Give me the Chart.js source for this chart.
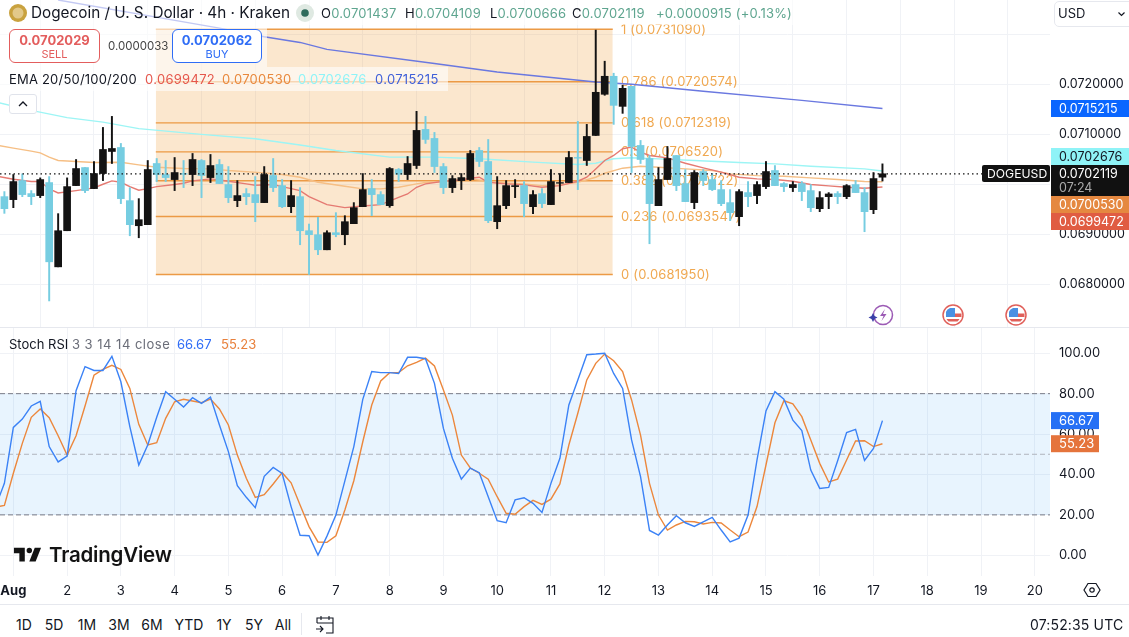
<!DOCTYPE html>
<html><head><meta charset="utf-8">
<script src="https://cdn.jsdelivr.net/npm/chart.js@4"></script>
<style>
html,body{margin:0;padding:0;background:#fff;width:1129px;height:637px;overflow:hidden;font-family:Inter,"Noto Sans",sans-serif;color:#131722}
canvas{position:absolute;left:0}
.a{position:absolute;white-space:nowrap;line-height:1}
.band{position:absolute;background:rgba(255,255,255,.6)}
.btn{position:absolute;box-sizing:border-box;border-radius:6px;background:#fff;text-align:center;border:1px solid}
.rng{position:absolute;top:618px;font-size:14px;line-height:1;color:#131722;transform:translateX(-50%)}
.ls{letter-spacing:.2px}
</style></head><body>
<canvas id="price" width="1129" height="328" style="top:0"></canvas>
<canvas id="stoch" width="1129" height="277" style="top:327px"></canvas>

<div class="a" style="left:0;top:327px;width:1129px;height:1px;background:#e6e8ee"></div>
<div class="a" style="left:0;top:604px;width:1129px;height:1px;background:#e6e8ee"></div>

<div class="band" style="left:0;top:0;width:808px;height:25px"></div>
<div class="band" style="left:0;top:25px;width:267px;height:42px"></div>
<div class="band" style="left:0;top:67px;width:448px;height:24px"></div>

<svg class="a" style="left:9px;top:4px" width="18" height="18" viewBox="0 0 18 18"><circle cx="9" cy="9" r="9" fill="#c9a23f"/><circle cx="9" cy="9" r="5.500" fill="#e3c98a"/></svg>
<div class="a" style="left:31px;top:5px;font-size:15.3px">Dogecoin / U. S. Dollar · 4h · Kraken</div>
<svg class="a" style="left:296px;top:4px" width="18" height="18" viewBox="0 0 18 18"><circle cx="9" cy="9" r="9" fill="#dfe9e2"/><circle cx="9" cy="9" r="3.800" fill="#2f6b5c"/></svg>
<div class="a ls" style="left:321px;top:7px;font-size:13px;color:#5ea58f"><span style="color:#131722">O</span>0.0701437</div>
<div class="a ls" style="left:405px;top:7px;font-size:13px;color:#5ea58f"><span style="color:#131722">H</span>0.0704109</div>
<div class="a ls" style="left:490px;top:7px;font-size:13px;color:#5ea58f"><span style="color:#131722">L</span>0.0700666</div>
<div class="a ls" style="left:572px;top:7px;font-size:13px;color:#5ea58f"><span style="color:#131722">C</span>0.0702119</div>
<div class="a ls" style="left:656px;top:7px;font-size:13px;color:#5ea58f">+0.0000915 (+0.13%)</div>

<div class="btn" style="left:9px;top:29px;width:91px;height:34px;border-color:#e35d5d;color:#e35d5d"><div style="font-size:13px;font-weight:700;margin-top:3px;line-height:15px">0.0702029</div><div style="font-size:11px;line-height:13px">SELL</div></div>
<div class="a" style="left:108px;top:41px;font-size:11.5px;color:#444">0.0000033</div>
<div class="btn" style="left:172px;top:29px;width:90px;height:34px;border-color:#2f6df6;color:#2f6df6"><div style="font-size:13px;font-weight:700;margin-top:3px;line-height:15px">0.0702062</div><div style="font-size:11px;line-height:13px">BUY</div></div>

<div class="a ls" style="left:9px;top:73px;font-size:13px">EMA 20/50/100/200</div>
<div class="a" style="left:145px;top:73px;font-size:13px;color:#e5574c;letter-spacing:.3px">0.0699472</div>
<div class="a" style="left:222px;top:73px;font-size:13px;color:#e8883c;letter-spacing:.3px">0.0700530</div>
<div class="a" style="left:298px;top:73px;font-size:13px;color:#8ff3f7;letter-spacing:.3px">0.0702676</div>
<div class="a" style="left:375px;top:73px;font-size:13px;color:#3f5fd8;letter-spacing:.3px">0.0715215</div>
<div class="a" style="left:9px;top:94px;width:28px;height:20px;box-sizing:border-box;border:1px solid #e0e3eb;border-radius:3px;background:#fff"><svg width="26" height="18" viewBox="0 0 26 18"><path d="M9 11l4-4 4 4" fill="none" stroke="#131722" stroke-width="1.300"/></svg></div>

<div class="a" style="left:1054px;top:1px;width:80px;height:26px;box-sizing:border-box;border:1px solid #e6e8ee;border-radius:5px;background:#fff"></div>
<div class="a" style="left:1058px;top:7px;font-size:13px">USD</div>
<svg class="a" style="left:1117px;top:11px" width="9" height="6" viewBox="0 0 9 6"><path d="M1.500 1.500l3 3 3-3" fill="none" stroke="#131722" stroke-width="1.200"/></svg>

<svg class="a" style="left:867px;top:303px" width="28" height="24" viewBox="0 0 28 24"><circle cx="16" cy="12" r="9.500" fill="#fff" stroke="#9c5bb5" stroke-width="1.500"/><path d="M18 6l-5 7h3.500l-2 5 5-7h-3.500z" fill="#9c5bb5"/><path d="M6 10l1.500 3 3 1.500-3 1.500L6 19l-1.500-3-3-1.500 3-1.500z" fill="#3a3fa8"/></svg>
<svg class="a" style="left:942px;top:304px" width="22" height="22" viewBox="0 0 22 22"><circle cx="11" cy="11" r="10" fill="#fff" stroke="#e0605a" stroke-width="1.500"/><path d="M13 9.500h6.500v3.500H13zM4.500 15h13a8 8 0 0 1-2 2.500h-9a8 8 0 0 1-2-2.500z" fill="#e0605a"/><path d="M4 13V7.500A8 8 0 0 1 8 4h5v9z" fill="#4a90e2"/></svg>
<svg class="a" style="left:1005px;top:304px" width="22" height="22" viewBox="0 0 22 22"><circle cx="11" cy="11" r="10" fill="#fff" stroke="#e0605a" stroke-width="1.500"/><path d="M13 9.500h6.500v3.500H13zM4.500 15h13a8 8 0 0 1-2 2.500h-9a8 8 0 0 1-2-2.500z" fill="#e0605a"/><path d="M4 13V7.500A8 8 0 0 1 8 4h5v9z" fill="#4a90e2"/></svg>

<div class="a" style="left:9px;top:338px;font-size:13px">Stoch RSI <span style="color:#6a6d78;letter-spacing:.5px">3 3 14 14 close</span></div>
<div class="a" style="left:177px;top:338px;font-size:13px;color:#2f6df6">66.67</div>
<div class="a" style="left:221px;top:338px;font-size:13px;color:#e8803c">55.23</div>

<svg class="a" style="left:12px;top:546px" width="31" height="19" viewBox="0 4 34 21"><path d="M14 6H2v6h6v9h6V6Zm12 15h-7l6-15h7l-6 15Zm-7-9a3 3 0 1 0 0-6 3 3 0 0 0 0 6Z" fill="#131313"/></svg>
<div class="a" style="left:49px;top:545px;font-size:20.5px;font-weight:600;color:#131313;letter-spacing:-.2px">TradingView</div>

<svg class="a" style="left:1083px;top:581px" width="18" height="18" viewBox="0 0 18 18"><path d="M5 2.500h8L17 9l-4 6.500H5L1 9z" fill="none" stroke="#131722" stroke-width="1.200"/><circle cx="9" cy="9" r="2.200" fill="none" stroke="#131722" stroke-width="1.200"/></svg>

<div class="rng" style="left:24px">1D</div><div class="rng" style="left:54px">5D</div><div class="rng" style="left:87px">1M</div>
<div class="rng" style="left:119px">3M</div><div class="rng" style="left:152px">6M</div><div class="rng" style="left:189px">YTD</div>
<div class="rng" style="left:224px">1Y</div><div class="rng" style="left:254px">5Y</div><div class="rng" style="left:283px">All</div>
<div class="a" style="left:301px;top:613px;width:1px;height:22px;background:#e6e8ee"></div>
<svg class="a" style="left:315px;top:614px" width="20" height="21" viewBox="0 0 20 21"><path d="M2 9V4h16v5M2 9h16M6 2v4M14 2v4M18 9v10h-7M1 15h7M5 12l3 3-3 3" fill="none" stroke="#131722" stroke-width="1.100"/></svg>
<div class="a" style="left:1030px;top:618px;font-size:14px;letter-spacing:.15px">07:52:35 UTC</div>

<script>
// ---- categories / axes ----
const dayBars   = [1,7,13,19,25,31,37,43,49,55,61,67,73,79,85,91,97,103,109,115];
const dayLabels = ['Aug','2','3','4','5','6','7','8','9','10','11','12','13','14','15','16','17','18','19','20'];
const priceTicks = [0.068,0.069,0.070,0.071,0.072,0.073];
const stochTicks = [0,20,40,60,80,100];

// ---- 4h candles, bar 0 .. 98 ----
const opens = [
0.069754,0.069694,0.070076,0.069815,0.069775,0.070036,0.068347,0.069071,0.069975,0.070337,
0.069915,0.070217,0.070659,0.070739,0.069674,0.069171,0.069192,0.070418,0.070197,0.070096,
0.070217,0.070197,0.070478,0.070136,0.070398,0.069996,0.069674,0.069815,0.069795,0.069634,
0.070177,0.069975,0.069553,0.069754,0.069071,0.068991,0.068689,0.069031,0.068991,0.069212,
0.069553,0.069915,0.069795,0.069573,0.070297,0.070197,0.070378,0.071101,0.070920,0.070357,
0.069935,0.070076,0.070096,0.070679,0.070458,0.069252,0.069573,0.069955,0.069975,0.069553,
0.069815,0.069594,0.070022,0.070036,0.070538,0.070478,0.070980,0.071805,0.072166,0.071563,
0.071965,0.070780,0.070518,0.069573,0.070096,0.070578,0.070016,0.069634,0.070257,0.070096,
0.069895,0.069634,0.069352,0.069835,0.069775,0.069955,0.070277,0.070016,0.069935,0.070016,
0.069875,0.069513,0.069754,0.069815,0.069754,0.069996,0.069835,0.069493,0.0701437];
const highs = [
0.069855,0.070197,0.070210,0.069875,0.070130,0.070156,0.069413,0.070130,0.070498,0.070337,
0.070458,0.071141,0.071362,0.070820,0.069935,0.069714,0.070478,0.070518,0.070478,0.070538,
0.070478,0.070619,0.070498,0.070599,0.070498,0.070357,0.070076,0.069915,0.070156,0.070357,
0.070518,0.070096,0.070076,0.069935,0.069205,0.069339,0.069071,0.069433,0.069372,0.069634,
0.070217,0.070096,0.069855,0.070337,0.070317,0.070558,0.071463,0.071362,0.071041,0.070418,
0.070176,0.070217,0.070679,0.070739,0.070899,0.070156,0.070076,0.070096,0.070056,0.069875,
0.069915,0.070297,0.070217,0.070659,0.071262,0.071202,0.073091,0.072468,0.072227,0.071985,
0.071965,0.070880,0.070578,0.070337,0.070759,0.070578,0.070297,0.070277,0.070297,0.070217,
0.070076,0.069895,0.069895,0.070056,0.070056,0.070458,0.070377,0.070036,0.070056,0.070056,
0.069996,0.069855,0.069835,0.069855,0.069996,0.070076,0.069935,0.070237,0.0704109];
const lows = [
0.069419,0.069533,0.069754,0.069594,0.069734,0.067664,0.068347,0.069071,0.069975,0.069835,
0.069915,0.070076,0.070418,0.069614,0.068970,0.068930,0.069192,0.070056,0.070056,0.069875,
0.069935,0.069975,0.069734,0.070036,0.070016,0.069634,0.069553,0.069594,0.069252,0.069634,
0.069855,0.069533,0.069433,0.068790,0.068195,0.068589,0.068689,0.068950,0.068790,0.069212,
0.069553,0.069372,0.069594,0.069540,0.070056,0.070096,0.070317,0.070820,0.070237,0.069815,
0.069835,0.069895,0.070076,0.070357,0.069232,0.069111,0.069513,0.069734,0.069352,0.069413,
0.069533,0.069594,0.069855,0.070036,0.069895,0.070378,0.070980,0.071785,0.071202,0.071423,
0.070237,0.070418,0.068810,0.069573,0.070096,0.069875,0.069654,0.069513,0.069975,0.069875,
0.069573,0.069272,0.069171,0.069553,0.069614,0.069915,0.069975,0.069855,0.069855,0.069674,
0.069453,0.069453,0.069513,0.069614,0.069714,0.069835,0.069051,0.069413,0.0700666];
const closes = [
0.069513,0.070056,0.069795,0.069754,0.070096,0.068448,0.069071,0.069955,0.070317,0.069875,
0.070217,0.070699,0.070719,0.069714,0.069192,0.069292,0.070297,0.070197,0.070136,0.070237,
0.070203,0.070498,0.070177,0.070377,0.070016,0.069734,0.069775,0.069754,0.069634,0.070197,
0.069935,0.069553,0.069775,0.069071,0.068991,0.068689,0.069031,0.068991,0.069252,0.069533,
0.069895,0.069795,0.069594,0.070317,0.070203,0.070418,0.071081,0.070900,0.070357,0.069935,
0.070116,0.070136,0.070619,0.070458,0.069272,0.069573,0.069975,0.069975,0.069614,0.069795,
0.069614,0.070056,0.070036,0.070538,0.070525,0.070960,0.071845,0.072166,0.071583,0.071925,
0.070759,0.070498,0.069614,0.070096,0.070518,0.069975,0.069654,0.070237,0.070076,0.069895,
0.069614,0.069433,0.069855,0.069754,0.069996,0.070257,0.069975,0.069955,0.069996,0.069855,
0.069533,0.069734,0.069808,0.069754,0.069975,0.069835,0.069453,0.070116,0.0702119];

// ---- EMA readings: bar number and value ----
const ema20Bars = [-1,1,3,4,5,6,8,10,11,12,13,14,15,16,17,19,20,21,23,24,25,27,28,30,31,33,34,36,38,40,42,44,45,46,47,49,51,52,53,54,56,58,60,62,64,65,66,67,68,69,70,71,72,74,76,78,80,82,84,86,88,90,92,94,96,98];
const ema20Vals = [0.07017,0.070103,0.070056,0.070056,0.069908,0.069828,0.069875,0.069929,0.070002,0.070069,0.070042,0.069955,0.069882,0.069915,0.069955,0.069996,0.070022,0.070069,0.070109,0.070089,0.070063,0.070009,0.069982,0.069996,0.069955,0.069875,0.069754,0.069594,0.069533,0.069567,0.069594,0.069741,0.069808,0.069942,0.070009,0.070063,0.070089,0.070123,0.070143,0.070042,0.070009,0.069989,0.069942,0.069975,0.070063,0.070143,0.070310,0.070478,0.070579,0.070713,0.070746,0.070646,0.070578,0.070532,0.070424,0.070331,0.070244,0.070143,0.070109,0.070096,0.070063,0.069996,0.069969,0.069942,0.069922,0.0699472];
const ema50Bars = [-1,1,3,4,5,6,8,10,13,15,17,20,23,25,29,31,33,35,38,40,42,44,46,47,49,52,54,56,58,60,62,64,66,67,69,71,73,76,79,81,84,87,90,93,96,98];
const ema50Vals = [0.070790,0.070726,0.070666,0.070632,0.070545,0.070478,0.070458,0.070438,0.070444,0.070391,0.070344,0.070317,0.070310,0.070277,0.070230,0.070197,0.070143,0.070042,0.069962,0.069909,0.069909,0.069942,0.070009,0.070036,0.070056,0.070110,0.070063,0.070029,0.070009,0.069975,0.069989,0.070042,0.070143,0.070223,0.070324,0.070364,0.070344,0.070310,0.070277,0.070210,0.070176,0.070163,0.070130,0.070096,0.070056,0.0700530];
const ema100Bars = [-1,3,7,11,15,22,28,33,37,43,48,53,59,64,66,68,70,73,77,82,86,90,96,98];
const ema100Vals = [0.07165,0.071483,0.071337,0.071248,0.071116,0.071001,0.070915,0.070790,0.070679,0.070545,0.070545,0.070512,0.070445,0.070398,0.070424,0.070512,0.070532,0.070511,0.070478,0.070438,0.070411,0.070364,0.070310,0.0702676];
const ema200Bars = [6,24,29,33,36,48,55,66,70,78,89,98];
const ema200Vals = [0.073694,0.073132,0.072957,0.072844,0.072704,0.072422,0.072253,0.072052,0.072006,0.071865,0.071684,0.0715215];

// ---- Fibonacci retracement ----
const fibRatios = ['1','0.786','0.618','0.5','0.382','0.236','0'];
const fibLevels = [0.0731090,0.0720574,0.0712319,0.0706520,0.0700722,0.0693547,0.0681950];
const fibFrom = 16.9, fibTo = 67.9;

const lastPrice = 0.0702119;

// ---- Stoch RSI, first value is bar -1 ----
const stochK = [24,35.6,63.3,67.4,73.9,76.2,53.8,46.2,49.1,81.5,93.4,91.5,91.5,98.5,85.9,63.7,44.7,54.6,68.3,81.0,77.2,73.4,78.0,75.2,78.3,64.5,51.3,34.4,28.7,23.6,39.1,43.5,40.5,24.1,9.9,9.7,0.1,9.5,19.9,36.8,53.8,77.2,91.0,90.4,90.4,90.0,98.0,98.0,97.3,85.1,62.8,48.0,37.7,43.2,40.9,29.0,17.1,16.1,27.4,28.5,25.7,21.2,35.6,48.0,74.4,86.8,99.3,99.6,100,90.0,82.6,57.1,38.9,12.3,10.0,15.0,19.6,16.1,14.3,16.6,18.8,12.5,6.6,8.5,19.9,47.2,71.4,81.0,77.3,66.9,61.7,42.2,33.1,33.6,46.8,60.7,62.3,47.0,52.9,66.67];
const stochD = [23.9,24.7,40.6,55.4,68.3,72.4,68.1,59.2,49.6,59.2,73.9,89.1,92.0,94.0,92.0,82.6,64.8,54.6,55.7,67.8,76.0,77.2,76.4,75.5,77.3,72.4,64.5,49.6,38.1,28.7,30.0,35.3,40.9,35.9,24.9,14.2,6.6,6.4,9.7,22.4,36.9,56.2,74.4,86.3,90.4,90.4,93.8,95.5,97.6,93.7,81.8,69.4,49.6,43.2,40.6,37.7,29.0,20.8,20.3,24.1,27.2,25.2,27.8,35.3,54.6,70.3,86.8,95.0,99.6,96.3,90.9,76.9,59.5,35.6,19.9,12.5,15.0,16.8,16.6,15.5,16.3,16.0,12.5,9.2,11.5,24.1,44.7,65.6,76.5,75.0,68.6,57.1,45.5,36.3,37.7,47.2,56.6,56.7,53.8,55.23];
const stochLevels = [80,50,20];

// ---- presentation ----
const upCol = '#131313', downCol = '#76cde1', gridCol = '#f0f2f6', tickCol = '#131722';
const xMin = -0.49, xMax = 116.7;
const priceMin = 0.0671216, priceMax = 0.0736945;
const stochMin = -10.25, stochMax = 113;
Chart.defaults.font.family = 'Inter';

const bars = opens.map((_, i) => i);
const candleColor = bars.map(i => closes[i] >= opens[i] ? upCol : downCol);
const pairs = (xs, ys) => xs.map((x, i) => ({x, y: ys[i]}));
const hline = (y, a, b) => [{x:a,y},{x:b,y}];
const line = (data, color, order, extra) => Object.assign({type:'line', data, borderColor:color, borderWidth:1.4, pointRadius:0, fill:false, tension:0, order}, extra||{});

function xScale(showLabels){
  return {
    type:'linear', min:xMin, max:xMax, offset:false,
    afterBuildTicks(s){ s.ticks = dayBars.map(v => ({value:v})); },
    afterFit(s){ s.height = showLabels ? 28 : 0; s.paddingLeft = 0; s.paddingRight = 0; },
    grid:{color:gridCol, drawTicks:false}, border:{display:false},
    ticks:{display:showLabels, autoSkip:false, maxRotation:0, padding:7, color:tickCol,
      font:c => ({family:'Inter', size:13, weight:c.index===0?'700':'400'}),
      callback:(v,i) => dayLabels[i]}
  };
}
function yScale(min, max, ticks, fmt, size){
  return {
    position:'right', min, max,
    afterBuildTicks(s){ s.ticks = ticks.map(v => ({value:v})); },
    afterFit(s){ s.width = 79; s.paddingTop = 0; s.paddingBottom = 0; },
    grid:{color:gridCol, drawTicks:false}, border:{display:false},
    ticks:{autoSkip:false, padding:9, crossAlign:'near', color:tickCol, font:{family:'Inter', size}, callback:fmt}
  };
}
const baseOpts = {responsive:false, animation:false, events:[], devicePixelRatio:window.devicePixelRatio||1,
  layout:{padding:0, autoPadding:false}, plugins:{legend:{display:false}, tooltip:{enabled:false}}};

function badge(ctx, y0, y1, w, bg, fg, text, size){
  ctx.fillStyle = bg; ctx.fillRect(1051, y0, w, y1-y0);
  ctx.fillStyle = fg; ctx.font = size+'px Inter'; ctx.textAlign='left'; ctx.textBaseline='middle';
  ctx.fillText(text, 1059, (y0+y1)/2+0.5);
}

const fibLabels = {id:'fibLabels', beforeDatasetsDraw(c){
  const ctx=c.ctx, y=c.scales.y; ctx.save();
  ctx.fillStyle='#f0a850'; ctx.font='13px Inter'; ctx.textAlign='left'; ctx.textBaseline='middle';
  if ('letterSpacing' in ctx) ctx.letterSpacing='0.2px';
  fibLevels.forEach((p,i)=>ctx.fillText(fibRatios[i]+' ('+p.toFixed(7)+')', 621, y.getPixelForValue(p)+0.5));
  ctx.restore();
}};
const priceBadges = {id:'priceBadges', afterDraw(c){
  const ctx=c.ctx; ctx.save();
  badge(ctx,100,117,78,'#0a66ff','#fff',ema200Vals[ema200Vals.length-1].toFixed(7),12.5);
  badge(ctx,148,165,78,'#8ff3f7','#131722',ema100Vals[ema100Vals.length-1].toFixed(7),12.5);
  ctx.fillStyle='#111'; ctx.fillRect(1051,165,78,31);
  ctx.fillStyle='#fff'; ctx.font='12.5px Inter'; ctx.textAlign='left'; ctx.textBaseline='middle';
  ctx.fillText(lastPrice.toFixed(7),1059,174);
  ctx.fillStyle='#aaa'; ctx.fillText('07:24',1059,188);
  badge(ctx,196,213,78,'#e58840','#fff',ema50Vals[ema50Vals.length-1].toFixed(7),12.5);
  badge(ctx,213,230,78,'#e05c42','#fff',ema20Vals[ema20Vals.length-1].toFixed(7),12.5);
  ctx.fillStyle='#111'; ctx.beginPath(); ctx.roundRect(982,165,68,17,2); ctx.fill();
  ctx.fillStyle='#fff'; ctx.font='12.2px Inter'; ctx.fillText('DOGEUSD',987,174);
  ctx.restore();
}};
const stochBadges = {id:'stochBadges', afterDraw(c){
  const ctx=c.ctx, y=c.scales.y; ctx.save();
  const k=stochK[stochK.length-1], d=stochD[stochD.length-1];
  const yk=y.getPixelForValue(k), yd=y.getPixelForValue(d);
  badge(ctx,yk-8.5,yk+8.5,48,'#2670f5','#fff',k.toFixed(2),13);
  badge(ctx,yd-8.5,yd+8.5,48,'#e5743c','#fff',d.toFixed(2),13);
  ctx.restore();
}};

new Chart(document.getElementById('price'), {
  type:'bar',
  data:{datasets:[
    line(hline(fibLevels[0],fibFrom,fibTo),'rgba(0,0,0,0)',30,{fill:{value:fibLevels[6]},backgroundColor:'rgba(240,160,60,0.25)'}),
    ...fibLevels.map(p => line(hline(p,fibFrom,fibTo),'#ec9a45',25)),
    line(pairs(ema200Bars,ema200Vals),'#6a78e0',20),
    line(pairs(ema100Bars,ema100Vals),'#9df5f5',19),
    line(pairs(ema50Bars,ema50Vals),'#f6bf85',18),
    line(pairs(ema20Bars,ema20Vals),'#e57a72',17),
    {type:'bar', data:bars.map(i=>({x:i,y:[lows[i],highs[i]]})), backgroundColor:candleColor, barThickness:1.3, grouped:false, order:10},
    {type:'bar', data:bars.map(i=>({x:i,y:[opens[i],closes[i]]})), backgroundColor:candleColor, barThickness:7, grouped:false, order:9},
    line(hline(lastPrice,xMin,xMax),'#131313',1,{borderWidth:1.2,borderDash:[1.5,3]})
  ]},
  options:Object.assign({},baseOpts,{scales:{
    x:xScale(false),
    y:yScale(priceMin,priceMax,priceTicks,v => v===0.073 ? '' : v.toFixed(7),12.5)
  }}),
  plugins:[fibLabels,priceBadges]
});

new Chart(document.getElementById('stoch'), {
  type:'line',
  data:{datasets:[
    line(hline(stochLevels[0],xMin,xMax),'rgba(0,0,0,0)',30,{fill:{value:stochLevels[2]},backgroundColor:'rgba(33,150,243,0.1)'}),
    line(hline(stochLevels[0],xMin,xMax),'#787b86',20,{borderWidth:1,borderDash:[5,3]}),
    line(hline(stochLevels[1],xMin,xMax),'#b2b5be',20,{borderWidth:1,borderDash:[5,3]}),
    line(hline(stochLevels[2],xMin,xMax),'#787b86',20,{borderWidth:1,borderDash:[5,3]}),
    line(stochD.map((v,i)=>({x:i-1,y:v})),'#ec873c',3),
    line(stochK.map((v,i)=>({x:i-1,y:v})),'#3b82f6',2)
  ]},
  options:Object.assign({},baseOpts,{scales:{
    x:xScale(true),
    y:yScale(stochMin,stochMax,stochTicks,v => v.toFixed(2),13)
  }}),
  plugins:[stochBadges]
});
</script>
</body></html>
